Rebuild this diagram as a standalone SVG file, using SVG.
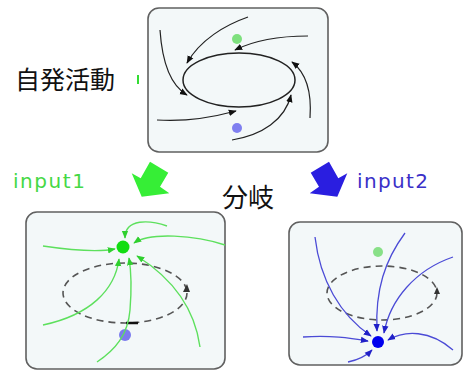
<svg xmlns="http://www.w3.org/2000/svg" width="463" height="371" viewBox="0 0 463 371">
<style>
.box{fill:#f3f8f9;stroke:#606060;stroke-width:1.6}
.blk{fill:none;stroke:#222;stroke-width:1.2}
.grn{fill:none;stroke:#5de05d;stroke-width:1.4}
.blu{fill:none;stroke:#4b4bd6;stroke-width:1.3}
.dash{fill:none;stroke:#555;stroke-width:1.6;stroke-dasharray:7 5}
.jp{font-family:"Noto Sans CJK JP","Noto Sans CJK SC",sans-serif;fill:#111}
.lbl{font-family:"DejaVu Sans",sans-serif;font-size:20px}
</style>
<defs>
<marker id="mk" viewBox="0 0 10 10" refX="9" refY="5" markerWidth="8" markerHeight="8" markerUnits="userSpaceOnUse" orient="auto"><path d="M0,1 L10,5 L0,9 z" fill="#111"/></marker>
<marker id="mg" viewBox="0 0 10 10" refX="9" refY="5" markerWidth="8" markerHeight="8" markerUnits="userSpaceOnUse" orient="auto"><path d="M0,1 L10,5 L0,9 z" fill="#2fd02f"/></marker>
<marker id="mb" viewBox="0 0 10 10" refX="9" refY="5" markerWidth="8" markerHeight="8" markerUnits="userSpaceOnUse" orient="auto"><path d="M0,1 L10,5 L0,9 z" fill="#2020c8"/></marker>
</defs>

<g id="top-box">
<rect class="box" x="148" y="8" width="180" height="144" rx="11"/>
<ellipse cx="239" cy="80" rx="56" ry="27" fill="none" stroke="#222" stroke-width="1.5"/>
<circle cx="237" cy="39" r="5" fill="#7ee07e"/>
<circle cx="237" cy="128" r="5" fill="#7f7ff0"/>
</g>

<g id="label-spontaneous">
<text class="jp" x="15" y="89" font-size="25">自発活動</text>
<rect x="137" y="75" width="2" height="9" fill="#33dd33"/>
</g>

<g id="label-input1"><text class="lbl" x="13" y="188" fill="#45d845" textLength="72">input1</text></g>
<g id="label-input2"><text class="lbl" x="357" y="188" fill="#3a30c8" textLength="71">input2</text></g>
<g id="label-bifurcation"><text class="jp" x="222" y="207" font-size="26">分岐</text></g>

<g id="arrow-input1"><polygon points="150,161.7 168.3,172.7 160,186.7 169.3,193.3 141.7,196.7 131.7,173.3 140.7,178.3" fill="#36ee36"/></g>
<g id="arrow-input2"><polygon points="329,161.7 310.7,172.7 319,186.7 309.7,193.3 337.3,196.7 347.3,173.3 338.3,178.3" fill="#2a1ee0"/></g>

<g id="left-box">
<rect class="box" x="26" y="212" width="199" height="157" rx="11"/>
<ellipse class="dash" cx="125" cy="293" rx="62" ry="30"/>
<path d="M183,292 L187,284 L190,292 z" fill="#333"/>
<line x1="126" y1="323" x2="138" y2="323" stroke="#111" stroke-width="2.5"/>
<circle cx="123" cy="247" r="6.5" fill="#11dd11"/>
<circle cx="125" cy="335" r="6" fill="#7b7bee"/>
</g>

<g id="right-box">
<rect class="box" x="289" y="222" width="173" height="143" rx="11"/>
<ellipse class="dash" cx="382" cy="293" rx="55" ry="27"/>
<path d="M434,294 L437,287 L440,294 z" fill="#333"/>
<circle cx="378" cy="252" r="5" fill="#88e088"/>
<circle cx="378" cy="342" r="6" fill="#0000ee"/>
</g>

<g id="connectors">
<path class="blk" marker-end="url(#mk)" d="M248,17 C225,25 200,40 187,63"/>
<path class="blk" marker-end="url(#mk)" d="M160,30 C162,60 170,85 187,95"/>
<path class="blk" marker-end="url(#mk)" d="M157,120 C185,122 210,118 236,111"/>
<path class="blk" marker-end="url(#mk)" d="M232,140 C262,135 285,120 291,95"/>
<path class="blk" marker-end="url(#mk)" d="M310,118 C312,90 305,72 292,62"/>
<path class="blk" marker-end="url(#mk)" d="M308,36 C280,36 255,40 235,50"/>

<path class="grn" marker-end="url(#mg)" d="M167,226 C150,220 125,218 125,238"/>
<path class="grn" marker-end="url(#mg)" d="M225,245 C195,235 150,232 134,243"/>
<path class="grn" marker-end="url(#mg)" d="M43,246 C70,250 100,252 115,249"/>
<path class="grn" marker-end="url(#mg)" d="M43,325 C90,315 115,290 119,259"/>
<path class="grn" marker-end="url(#mg)" d="M97,362 C115,350 128,335 130,310 C132,285 131,270 129,258"/>
<path class="grn" marker-end="url(#mg)" d="M200,347 C195,310 175,280 137,256"/>

<path class="blu" marker-end="url(#mb)" d="M315,237 C320,280 340,315 371,336"/>
<path class="blu" marker-end="url(#mb)" d="M405,233 C385,260 375,290 377,331"/>
<path class="blu" marker-end="url(#mb)" d="M453,257 C415,270 390,300 384,333"/>
<path class="blu" marker-end="url(#mb)" d="M303,337 C330,335 350,338 368,341"/>
<path class="blu" marker-end="url(#mb)" d="M453,350 C430,330 405,330 388,340"/>
<path class="blu" marker-end="url(#mb)" d="M348,362 C358,360 366,356 372,350"/>
</g>
</svg>
